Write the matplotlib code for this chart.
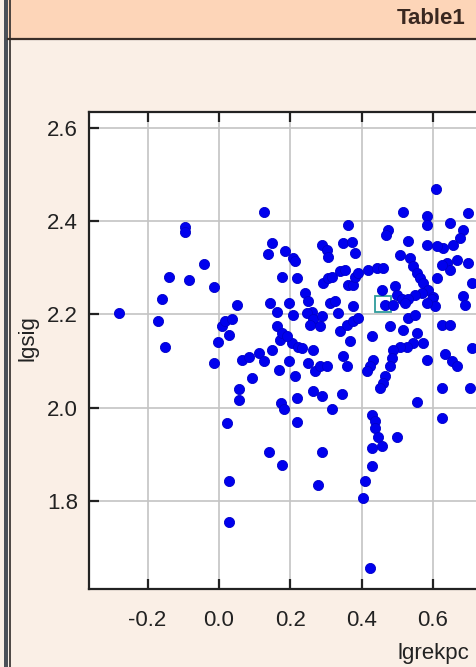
import matplotlib
matplotlib.use("Agg")
import matplotlib.pyplot as plt
from matplotlib.patches import Rectangle
from matplotlib.lines import Line2D

plt.rcParams['axes.unicode_minus'] = False
plt.rcParams['font.family'] = ['Liberation Sans', 'DejaVu Sans']

# ---- data ----
lgrekpc = [-0.279, -0.171, -0.160, -0.152, -0.141, -0.094, -0.094, -0.083, -0.043, -0.013,
           -0.015, -0.003, 0.008, 0.018, 0.036, 0.027, 0.022, 0.027, 0.027, 0.050,
           0.055, 0.055, 0.064, 0.083, 0.092, 0.111, 0.125, 0.125, 0.139, 0.144,
           0.148, 0.137, 0.148, 0.162, 0.162, 0.167, 0.172, 0.176, 0.176, 0.173,
           0.181, 0.178, 0.186, 0.209, 0.214, 0.195, 0.209, 0.195, 0.205, 0.214,
           0.218, 0.218, 0.218, 0.223, 0.232, 0.242, 0.251, 0.260, 0.246, 0.265,
           0.256, 0.284, 0.289, 0.265, 0.251, 0.270, 0.284, 0.303, 0.265, 0.289,
           0.278, 0.289, 0.293, 0.307, 0.289, 0.303, 0.307, 0.317, 0.312, 0.326,
           0.335, 0.317, 0.340, 0.354, 0.349, 0.373, 0.382, 0.363, 0.363, 0.377,
           0.382, 0.391, 0.377, 0.340, 0.359, 0.377, 0.391, 0.368, 0.349, 0.359,
           0.345, 0.419, 0.443, 0.461, 0.429, 0.433, 0.424, 0.415, 0.429, 0.438,
           0.438, 0.447, 0.429, 0.457, 0.499, 0.429, 0.410, 0.405, 0.424, 0.457,
           0.494, 0.499, 0.513, 0.466, 0.489, 0.475, 0.469, 0.515, 0.531, 0.480,
           0.517, 0.531, 0.550, 0.555, 0.573, 0.545, 0.527, 0.508, 0.489, 0.485,
           0.480, 0.466, 0.461, 0.452, 0.583, 0.555, 0.608, 0.584, 0.584, 0.648,
           0.699, 0.685, 0.676, 0.657, 0.629, 0.611, 0.583, 0.508, 0.536, 0.545,
           0.555, 0.564, 0.573, 0.587, 0.601, 0.611, 0.639, 0.648, 0.667, 0.699,
           0.685, 0.690, 0.708, 0.569, 0.550, 0.531, 0.522, 0.597, 0.606, 0.624,
           0.648, 0.633, 0.652, 0.666, 0.708, 0.624, 0.704, 0.624, 0.582, 0.191,
           0.624]
lgsig = [2.202, 2.185, 2.234, 2.131, 2.281, 2.388, 2.377, 2.274, 2.309, 2.259,
         2.096, 2.140, 2.174, 2.185, 2.189, 2.156, 1.967, 1.842, 1.754, 2.221,
         2.039, 2.017, 2.103, 2.109, 2.064, 2.118, 2.099, 2.419, 1.904, 2.224,
         2.353, 2.330, 2.124, 2.206, 2.174, 2.081, 2.146, 2.281, 2.160, 2.010,
         1.996, 1.878, 2.335, 2.321, 2.314, 2.225, 2.199, 2.099, 2.139, 2.067,
         2.277, 2.021, 1.969, 2.131, 2.128, 2.246, 2.228, 2.206, 2.203, 2.189,
         2.178, 2.174, 2.196, 2.124, 2.096, 2.078, 2.089, 2.089, 2.035, 2.024,
         1.835, 1.904, 2.267, 2.279, 2.349, 2.339, 2.324, 2.281, 2.224, 2.228,
         2.203, 1.998, 2.292, 2.296, 2.354, 2.356, 2.332, 2.392, 2.264, 2.264,
         2.281, 2.289, 2.217, 2.164, 2.178, 2.185, 2.192, 2.142, 2.110, 2.089,
         2.030, 2.296, 2.299, 2.299, 2.153, 2.103, 2.089, 2.078, 1.985, 1.971,
         1.956, 1.938, 1.914, 1.917, 1.937, 1.874, 1.842, 1.806, 1.656, 2.253,
         2.260, 2.242, 2.232, 2.221, 2.221, 2.382, 2.371, 2.419, 2.358, 2.174,
         2.167, 2.192, 2.199, 2.160, 2.139, 2.139, 2.131, 2.131, 2.124, 2.107,
         2.089, 2.067, 2.053, 2.042, 2.103, 2.011, 2.469, 2.410, 2.392, 2.397,
         2.417, 2.382, 2.364, 2.349, 2.342, 2.346, 2.349, 2.328, 2.321, 2.303,
         2.289, 2.278, 2.267, 2.253, 2.238, 2.278, 2.310, 2.296, 2.317, 2.310,
         2.239, 2.221, 2.268, 2.246, 2.242, 2.232, 2.224, 2.232, 2.217, 2.178,
         2.178, 2.114, 2.099, 2.089, 2.128, 2.042, 2.042, 1.978, 2.224, 2.153,
         2.306]
selected_x = [0.4585]
selected_y = [2.223]

x_ticks = [-0.2, 0.0, 0.2, 0.4, 0.6]
x_tick_labels = ["-0.2", "0.0", "0.2", "0.4", "0.6"]
y_ticks = [1.8, 2.0, 2.2, 2.4, 2.6]
y_tick_labels = ["1.8", "2.0", "2.2", "2.4", "2.6"]
title_text = "Table1"
x_label = "lgrekpc"
y_label = "lgsig"

W, H = 477, 667
fig = plt.figure(figsize=(W / 100, H / 100), dpi=100)
fig.patch.set_facecolor('#FAEFE6')

def fx(px):
    return px / W

def fy(py):
    return 1 - py / H

# title bar
fig.patches.append(Rectangle((fx(8), fy(39)), fx(W - 8), 39 / H, transform=fig.transFigure,
                             facecolor='#FDD5B8', edgecolor='none', zorder=0))
fig.lines.append(Line2D([fx(8), 1], [fy(39), fy(39)], transform=fig.transFigure,
                        color='#3a2e28', lw=1.6))
# left dark border
fig.patches.append(Rectangle((fx(4), 0), fx(4), 1, transform=fig.transFigure,
                             facecolor='#4b5058', edgecolor='none', zorder=1))
fig.lines.append(Line2D([fx(10), fx(10)], [0, 1], transform=fig.transFigure,
                        color='#2e2a28', lw=1.2))
fig.text(fx(466), fy(19), title_text, ha='right', va='center', fontsize=16,
         fontweight='bold', color='#3a2820')

ax_left, ax_right_px, ax_top, ax_bot = 89, 488, 112, 589
ax = fig.add_axes([fx(ax_left), fy(ax_bot), fx(ax_right_px - ax_left), (ax_bot - ax_top) / H])
ax.set_facecolor('white')
ax.set_xlim(-0.364, 0.754)
ax.set_ylim(1.611, 2.634)

ax.grid(True, color='#c4c4c4', lw=1.2, zorder=0)
ax.set_axisbelow(True)

ax.plot(selected_x, selected_y, marker='s', markersize=12, markerfacecolor='none',
        markeredgecolor='#2f9c9c', markeredgewidth=1.3, linestyle='none', zorder=2)
ax.plot(lgrekpc, lgsig, marker='o', markersize=7.3, color='#0000EE',
        markeredgecolor='#0000C8', markeredgewidth=0.6, linestyle='none', zorder=3)

ax.set_xticks(x_ticks)
ax.set_xticklabels(x_tick_labels)
ax.set_yticks(y_ticks)
ax.set_yticklabels(y_tick_labels)
ax.tick_params(axis='both', direction='in', length=7, width=1.6, color='#222222',
               labelsize=16, labelcolor='#222222', top=True, right=True)
ax.tick_params(axis='x', pad=15)
ax.tick_params(axis='y', pad=8)
for s in ax.spines.values():
    s.set_color('#222222')
    s.set_linewidth(1.6)

fig.text(fx(433), fy(654), x_label, ha='center', va='center', fontsize=16, color='#222222')
fig.text(fx(28), fy(338), y_label, ha='center', va='center', rotation=90, fontsize=16,
         color='#222222')

fig.savefig('out.png', dpi=100, facecolor=fig.get_facecolor())
